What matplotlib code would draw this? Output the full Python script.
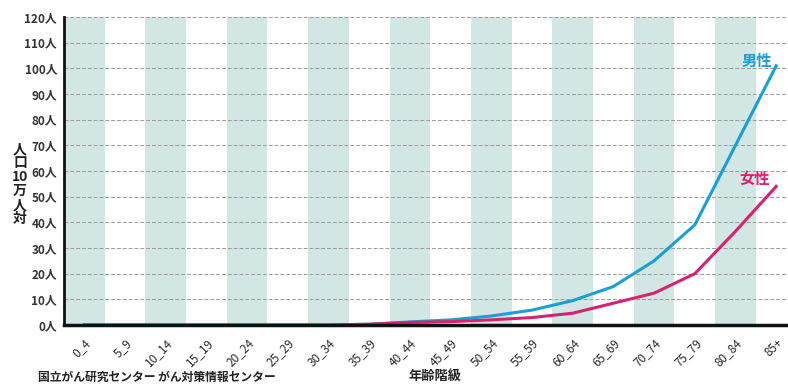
import matplotlib
matplotlib.use("Agg")
import matplotlib.pyplot as plt
import numpy as np

plt.rcParams['font.family'] = ['Noto Sans CJK JP', 'DejaVu Sans']

categories = ["0_4", "5_9", "10_14", "15_19", "20_24", "25_29", "30_34", "35_39",
              "40_44", "45_49", "50_54", "55_59", "60_64", "65_69", "70_74",
              "75_79", "80_84", "85+"]
male = [0, 0, 0, 0, 0, 0, 0, 0.3, 1.2, 2.0, 3.5, 5.8, 9.5, 15, 25, 39, 70, 101]
female = [0, 0, 0, 0, 0, 0, 0, 0.3, 1.0, 1.3, 2.0, 2.9, 4.6, 8.5, 12.4, 20, 36.5, 54]
yticks = list(range(0, 121, 10))
ytick_labels = [f"{v}人" for v in yticks]

blue = "#1c9ed3"
pink = "#d8216f"
band = "#d2e6e3"

fig = plt.figure(figsize=(7.88, 3.85), dpi=100)
ax = fig.add_axes([64/788, 60/385, 724/788, 308/385])

x = np.arange(len(categories))
for i in range(0, len(categories), 2):
    ax.axvspan(i - 0.5, i + 0.5, color=band, lw=0, zorder=0)

for v in yticks[1:]:
    ax.axhline(v, color="#9a9a9a", lw=0.7, ls=(0, (4, 2)), zorder=1)

ax.plot(x, male, color=blue, lw=2.2, zorder=2, solid_joinstyle='miter')
ax.plot(x, female, color=pink, lw=2.2, zorder=2, solid_joinstyle='miter')

ax.set_xlim(-0.5, 17.29)
ax.set_ylim(0, 120)
ax.set_yticks(yticks)
ax.set_yticklabels(ytick_labels, fontsize=8.5, fontweight='bold', color="#333333")
ax.set_xticks(x)
ax.set_xticklabels(categories, rotation=45, ha='right', rotation_mode='anchor',
                   fontsize=8.5, color="#2a2a2a")
ax.tick_params(axis='both', length=0)
ax.tick_params(axis='y', pad=5)
ax.tick_params(axis='x', pad=8)

for s in ['top', 'right']:
    ax.spines[s].set_visible(False)
ax.spines['left'].set_linewidth(2)
ax.spines['bottom'].set_linewidth(2.5)
ax.spines['left'].set_color('#111111')
ax.spines['bottom'].set_color('#111111')
ax.spines['left'].set_zorder(5)
ax.spines['bottom'].set_zorder(5)

ax.text(16.9, 103, "男性", color=blue, fontsize=11, fontweight='bold', ha='right', va='center')
ax.text(16.85, 57, "女性", color=pink, fontsize=11, fontweight='bold', ha='right', va='center')

fig.text(20/788, 1 - 184/385, "人\n口\n10\n万\n人\n対", fontsize=10, fontweight='bold',
         ha='center', va='center', linespacing=1.0, color="#222222")
fig.text(435/788, 1 - 376/385, "年齢階級", fontsize=9.5, fontweight='bold',
         ha='center', va='center', color="#222222")
fig.text(38/788, 1/385, "国立がん研究センター がん対策情報センター", fontsize=8.5,
         fontweight='bold', ha='left', va='bottom', color="#222222")

fig.savefig("out.png", dpi=100)
